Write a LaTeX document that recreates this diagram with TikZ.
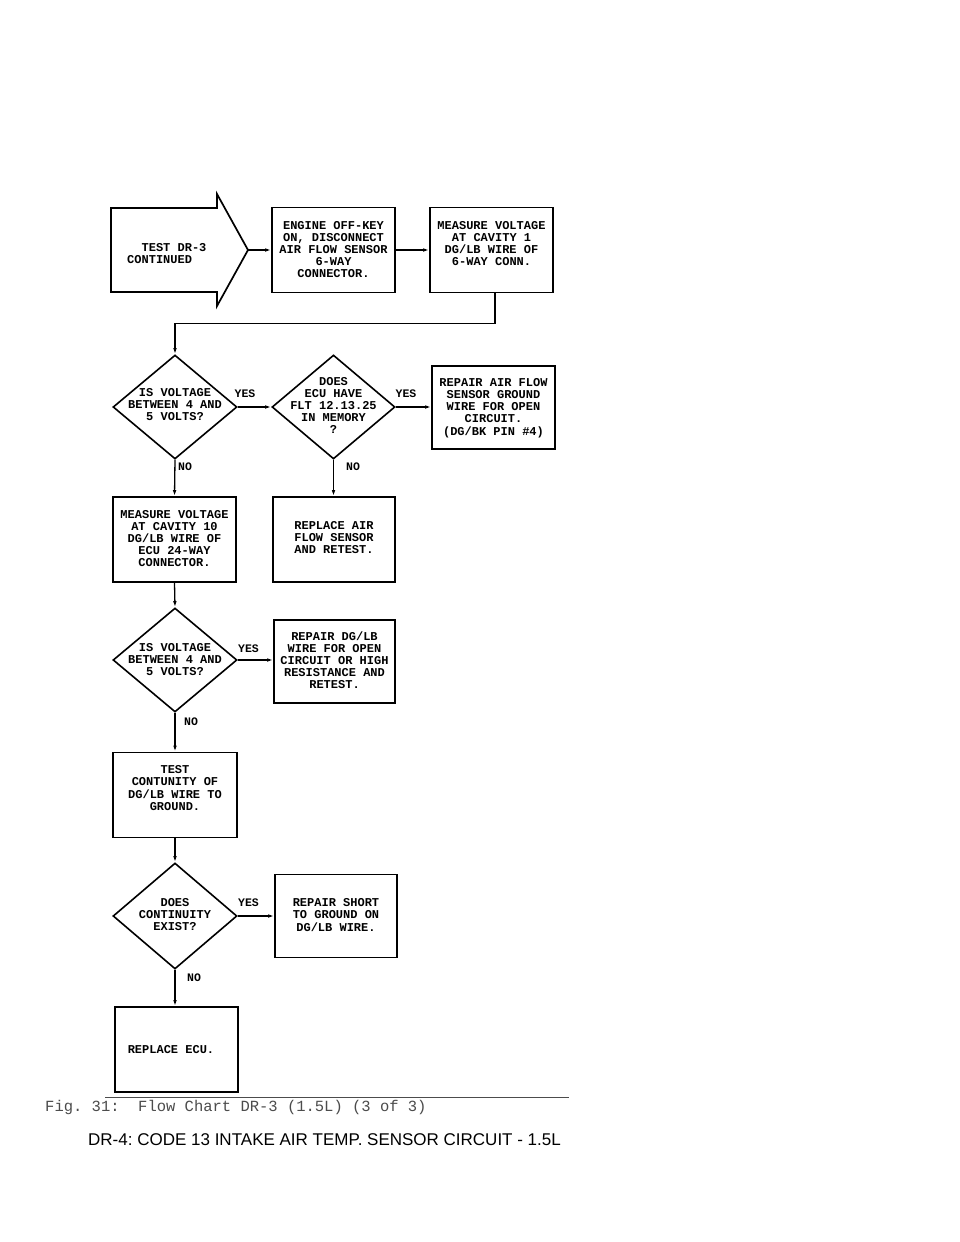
\documentclass[tikz,border=0pt]{standalone}
\usepackage{fontspec}
\setmainfont{Liberation Sans}
\newfontfamily\lett{Liberation Mono}
\newfontfamily\capmono{Liberation Mono}
\usetikzlibrary{shapes.geometric,arrows.meta}
\newcommand\ftext[2][-4.5pt]{\smash{\raisebox{#1}{\makebox[0pt]{\begin{tabular}{@{}c@{}}#2\end{tabular}}}}}
\tikzset{
  lettfont/.style={font=\lett\bfseries\fontsize{12}{12}\selectfont},
  box/.style={draw, line width=1.7pt, rectangle, inner sep=0pt, lettfont,
              minimum width=123pt, minimum height=85pt},
  dia/.style={draw, line width=1.6pt, diamond, inner sep=0pt, lettfont,
              minimum width=124pt, minimum height=104pt},
  conn/.style={line width=1.3pt, -{Latex[length=6pt,width=3.6pt]}},
  lab/.style={inner sep=0pt, font=\lett\bfseries\fontsize{11.5}{11.5}\selectfont},
}
\begin{document}
\begin{tikzpicture}[x=1pt,y=-1pt]
\useasboundingbox[fill=white] (0,0) rectangle (960,1242);

% start arrow shape
\draw[line width=1.7pt, line join=miter] (111,208) -- (217,208) -- (217,194) -- (248,250)
   -- (217,306) -- (217,292) -- (111,292) -- cycle;
\coordinate (tip) at (248,250);
\node[lettfont, align=left, anchor=west, inner sep=0pt] (start) at (127,254)
   {\ \ TEST DR-3\\CONTINUED};

% top row
\node[box] (b2) at (333.5,250) {\ftext[-4.5pt]{ENGINE OFF-KEY\\ON, DISCONNECT\\AIR FLOW SENSOR\\6-WAY\\CONNECTOR.}};
\node[box] (b3) at (491.5,250) {\ftext[2pt]{MEASURE VOLTAGE\\AT CAVITY 1\\DG/LB WIRE OF\\6-WAY CONN.}};

% second row
\node[dia] (d1) at (175,407) {\ftext[-2.5pt]{IS VOLTAGE\\BETWEEN 4 AND\\5 VOLTS?}};
\node[dia, minimum width=123pt] (d2) at (333.5,407) {\ftext[-3.5pt]{DOES\\ECU HAVE\\FLT 12.13.25\\IN MEMORY\\?}};
\node[box, minimum height=83pt] (b4) at (493.5,407.5) {\ftext[-4pt]{REPAIR AIR FLOW\\SENSOR GROUND\\WIRE FOR OPEN\\CIRCUIT.\\(DG/BK PIN \#4)}};

% third row
\node[box] (b5) at (174.5,539.5) {\ftext[-3.5pt]{MEASURE VOLTAGE\\AT CAVITY 10\\DG/LB WIRE OF\\ECU 24-WAY\\CONNECTOR.}};
\node[box, minimum width=122pt] (b6) at (334,539.5) {\ftext[-3pt]{REPLACE AIR\\FLOW SENSOR\\AND RETEST.}};

% fourth row
\node[dia] (d3) at (175,660) {\ftext[-4.5pt]{IS VOLTAGE\\BETWEEN 4 AND\\5 VOLTS?}};
\node[box, minimum width=121pt, minimum height=83pt] (b7) at (334.5,661.5) {\ftext[-3pt]{REPAIR DG/LB\\WIRE FOR OPEN\\CIRCUIT OR HIGH\\RESISTANCE AND\\RETEST.}};

% fifth
\node[box, minimum width=124pt] (b8) at (175,795) {\ftext[2.5pt]{TEST\\CONTUNITY OF\\DG/LB WIRE TO\\GROUND.}};

% sixth
\node[dia, minimum height=106pt] (d4) at (175,916) {\ftext[-3pt]{DOES\\CONTINUITY\\EXIST?}};
\node[box, minimum width=122pt, minimum height=83pt] (b9) at (336,916) {\ftext[-3.5pt]{REPAIR SHORT\\TO GROUND ON\\DG/LB WIRE.}};

% last
\node[box] (b10) at (176.5,1049.5) {\ftext[-4.5pt]{REPLACE ECU.\kern11pt}};

% connectors
\draw[conn] (tip) -- (b2.west);
\draw[conn] (b2.east) -- (b3.west);
\draw[conn] ([xshift=3.5pt]b3.south) -- ++(0,30) -| (d1.north);
\draw[conn] (d1.east) -- (d2.west);
\draw[conn] (d2.east) -- (d2.east -| b4.west);
\draw[conn] (d1.south) -- (b5.north);
\draw[conn] (d2.south) -- (d2.south |- b6.north);
\draw[conn] (b5.south) -- (d3.north);
\draw[conn] (d3.east) -- (d3.east -| b7.west);
\draw[conn] (d3.south) -- (b8.north);
\draw[conn] (b8.south) -- (d4.north);
\draw[conn] (d4.east) -- (d4.east -| b9.west);
\draw[conn] (d4.south) -- (d4.south |- b10.north);

% labels
\node[lab] (y1) at (245,394) {YES};
\node[lab] (y2) at (406,394) {YES};
\node[lab] (y3) at (248.5,649) {YES};
\node[lab] (y4) at (248.5,903) {YES};
\node[lab] (n1) at (185,467) {NO};
\node[lab] (n2) at (353,467) {NO};
\node[lab] (n3) at (191,722) {NO};
\node[lab] (n4) at (194,978) {NO};

% caption
\draw[line width=0.9pt, black!70] (105,1097) -- (569,1097);
\node[anchor=base west, inner sep=0pt, text=black!70,
      font=\capmono\fontsize{15.5}{15.5}\selectfont\frenchspacing] (fig) at (45,1111)
   {Fig. 31:\ \ Flow Chart DR-3 (1.5L) (3 of 3)};
\node[anchor=base west, inner sep=0pt, font=\fontsize{17}{17}\selectfont\frenchspacing] (title) at (88,1145)
   {DR-4: CODE 13 INTAKE AIR TEMP. SENSOR CIRCUIT - 1.5L};
\end{tikzpicture}
\end{document}
